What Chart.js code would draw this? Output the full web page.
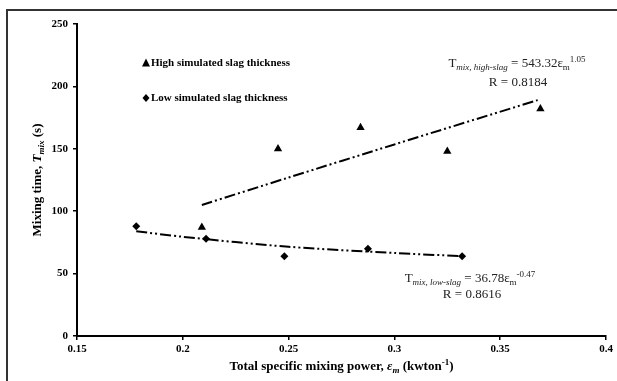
<!DOCTYPE html>
<html>
<head>
<meta charset="utf-8">
<script src="https://cdn.jsdelivr.net/npm/chart.js@4"></script>
<style>
  html, body { margin: 0; padding: 0; background: #fff; }
  #wrap { width: 617px; height: 381px; position: relative; }
</style>
</head>
<body>
<div id="wrap"><canvas id="chart"></canvas></div>
<script>
// measured points
const highX = [0.209, 0.245, 0.284, 0.325, 0.369];
const highY = [87, 150, 167, 148, 182];
const lowX = [0.178, 0.211, 0.248, 0.2875, 0.332];
const lowY = [88, 78, 64, 70, 64];

// trend lines
const highFitX = [0.209, 0.25, 0.3, 0.3677];
const highFitY = [105, 127, 153.5, 189];
const lowFitX = [0.178, 0.2, 0.25, 0.3, 0.332];
const lowFitY = [84, 79.5, 71.5, 66.5, 64];

const xTicks = [0.15, 0.2, 0.25, 0.3, 0.35, 0.4];
const yTicks = [0, 50, 100, 150, 200, 250];

const legendLabels = ["High simulated slag thickness", "Low simulated slag thickness"];

const SERIF = "'Liberation Serif', 'Times New Roman', serif";
const dashDotDot = [11, 3, 2, 3, 2, 3];

function pts(xs, ys) {
  return xs.map((x, i) => ({ x: x, y: ys[i] }));
}

// draws a list of text pieces on one line, centred or left aligned
function richText(ctx, parts, x, y, align) {
  let total = 0;
  parts.forEach(p => { ctx.font = p.f; total += ctx.measureText(p.t).width; });
  let cx = align === "center" ? x - total / 2 : x;
  ctx.textBaseline = "alphabetic";
  ctx.textAlign = "left";
  parts.forEach(p => {
    ctx.font = p.f;
    ctx.fillText(p.t, cx, y + (p.dy || 0));
    cx += ctx.measureText(p.t).width;
  });
}

const decor = {
  id: "decor",
  afterDraw(chart) {
    const ctx = chart.ctx;
    const xs = chart.scales.x, ys = chart.scales.y;
    ctx.save();

    // outer frame (top and left visible)
    ctx.strokeStyle = "#333";
    ctx.lineWidth = 2;
    ctx.beginPath();
    ctx.moveTo(7, 381);
    ctx.lineTo(7, 10);
    ctx.lineTo(617, 10);
    ctx.stroke();

    // legend inside plot
    ctx.fillStyle = "#000";
    const lx = 146, ly1 = 63, ly2 = 98;
    ctx.beginPath();
    ctx.moveTo(lx, ly1 - 4.5); ctx.lineTo(lx + 4, ly1 + 3.5); ctx.lineTo(lx - 4, ly1 + 3.5); ctx.closePath();
    ctx.fill();
    ctx.beginPath();
    ctx.moveTo(lx, ly2 - 4); ctx.lineTo(lx + 3.5, ly2); ctx.lineTo(lx, ly2 + 4); ctx.lineTo(lx - 3.5, ly2); ctx.closePath();
    ctx.fill();
    ctx.font = "bold 11px " + SERIF;
    ctx.textBaseline = "middle";
    ctx.fillText(legendLabels[0], 151, ly1);
    ctx.fillText(legendLabels[1], 151, ly2);

    // fit equations
    ctx.fillStyle = "#222";
    const big = "13px " + SERIF, small = "italic 9px " + SERIF, sm = "9px " + SERIF;
    richText(ctx, [
      { t: "T", f: big },
      { t: "mix, high-slag", f: small, dy: 3 },
      { t: " = 543.32ε", f: big },
      { t: "m", f: sm, dy: 3 },
      { t: "1.05", f: sm, dy: -5 }
    ], 517, 67, "center");
    richText(ctx, [{ t: "R = 0.8184", f: big }], 518, 86, "center");
    richText(ctx, [
      { t: "T", f: big },
      { t: "mix, low-slag", f: small, dy: 3 },
      { t: " = 36.78ε", f: big },
      { t: "m", f: sm, dy: 3 },
      { t: "-0.47", f: sm, dy: -5 }
    ], 470, 282, "center");
    richText(ctx, [{ t: "R = 0.8616", f: big }], 472, 298, "center");

    // axis titles
    ctx.fillStyle = "#000";
    const tb = "bold 13px " + SERIF, tbi = "bold italic 13px " + SERIF, ts = "bold italic 9px " + SERIF, tsu = "bold 9px " + SERIF;
    richText(ctx, [
      { t: "Total specific mixing power, ", f: tb },
      { t: "ε", f: tbi },
      { t: "m", f: ts, dy: 3 },
      { t: " (kwton", f: tb },
      { t: "-1", f: tsu, dy: -5 },
      { t: ")", f: tb }
    ], (xs.left + xs.right) / 2, 370, "center");

    ctx.translate(41, (ys.top + ys.bottom) / 2);
    ctx.rotate(-Math.PI / 2);
    richText(ctx, [
      { t: "Mixing time, ", f: tb },
      { t: "T", f: tbi },
      { t: "mix", f: ts, dy: 3 },
      { t: " (s)", f: tb }
    ], 0, 0, "center");
    ctx.restore();
  }
};

new Chart(document.getElementById("chart"), {
  type: "scatter",
  data: {
    datasets: [
      {
        label: legendLabels[0],
        data: pts(highX, highY),
        pointStyle: "triangle",
        pointRadius: 4.8,
        backgroundColor: "#000",
        borderColor: "#000",
        borderWidth: 0
      },
      {
        label: legendLabels[1],
        data: pts(lowX, lowY),
        pointStyle: "rectRot",
        pointRadius: 4,
        backgroundColor: "#000",
        borderColor: "#000",
        borderWidth: 0
      },
      {
        label: "high fit",
        data: pts(highFitX, highFitY),
        showLine: true,
        pointRadius: 0,
        borderColor: "#000",
        borderWidth: 2,
        borderDash: dashDotDot,
        tension: 0.3
      },
      {
        label: "low fit",
        data: pts(lowFitX, lowFitY),
        showLine: true,
        pointRadius: 0,
        borderColor: "#000",
        borderWidth: 2,
        borderDash: dashDotDot,
        tension: 0.3
      }
    ]
  },
  options: {
    responsive: true,
    maintainAspectRatio: false,
    animation: false,
    layout: { padding: { left: 0, top: 24, right: 11, bottom: 0 } },
    plugins: {
      legend: { display: false },
      tooltip: { enabled: false }
    },
    scales: {
      x: {
        type: "linear",
        min: xTicks[0],
        max: xTicks[xTicks.length - 1],
        afterBuildTicks: s => { s.ticks = xTicks.map(v => ({ value: v })); },
        afterFit: s => { s.height = 45; },
        border: { color: "#000", width: 2 },
        grid: { drawOnChartArea: false, drawTicks: true, tickLength: 4, color: "#000", lineWidth: 1.5 },
        ticks: {
          color: "#000",
          padding: 3,
          font: { family: SERIF, size: 11, weight: "bold" },
          callback: v => String(+v.toFixed(2))
        }
      },
      y: {
        min: yTicks[0],
        max: yTicks[yTicks.length - 1],
        afterBuildTicks: s => { s.ticks = yTicks.map(v => ({ value: v })); },
        afterFit: s => { s.width = 77; },
        border: { color: "#000", width: 2 },
        grid: { drawOnChartArea: false, drawTicks: true, tickLength: 4, color: "#000", lineWidth: 1.5 },
        ticks: {
          color: "#000",
          padding: 5,
          font: { family: SERIF, size: 11, weight: "bold" }
        }
      }
    }
  },
  plugins: [decor]
});
</script>
</body>
</html>
